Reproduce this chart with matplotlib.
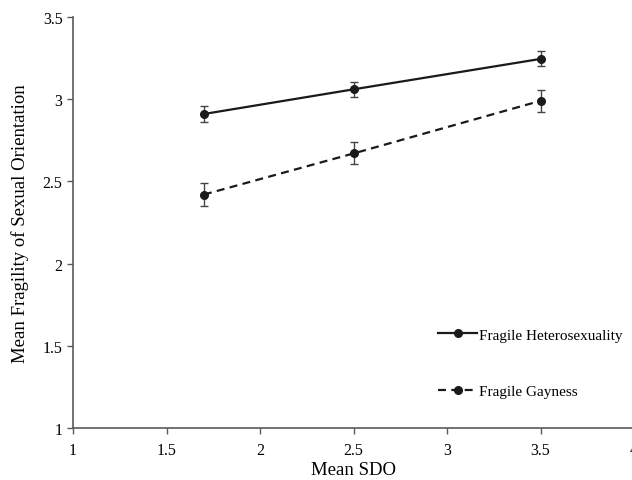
import numpy as np
import matplotlib
matplotlib.use('Agg')
from matplotlib import pyplot as plt

# data
sdo = [1.7, 2.5, 3.5]
hetero = [2.91, 3.06, 3.245]
hetero_err = [0.046, 0.046, 0.046]
gay = [2.42, 2.67, 2.99]
gay_err = [0.068, 0.067, 0.069]
xticks = [1, 1.5, 2, 2.5, 3, 3.5, 4]
yticks = [1, 1.5, 2, 2.5, 3, 3.5]

plt.rcParams['font.family'] = ['Liberation Serif', 'DejaVu Serif']
axis_col = '#5a5a5a'

fig = plt.figure(figsize=(6.32, 4.81), dpi=100)
ax = fig.add_axes([73 / 632, 1 - 429 / 481, 561 / 632, 411 / 481])

ax.errorbar(sdo, hetero, yerr=hetero_err, color='#1a1a1a', lw=1.6,
            marker='o', ms=5.5, ecolor='#444444', elinewidth=1, capsize=3,
            capthick=1, label='Fragile Heterosexuality')
ax.errorbar(sdo, gay, yerr=gay_err, color='#1a1a1a', lw=1.6, ls=(0, (3.6, 2.4)),
            marker='o', ms=5.5, ecolor='#444444', elinewidth=1, capsize=3,
            capthick=1, label='Fragile Gayness')

ax.set_xlim(1, 4)
ax.set_ylim(1, 3.5)
ax.set_xticks(xticks)
ax.set_xticklabels(['1', '1.5', '2', '2.5', '3', '3.5', '4'])
ax.set_yticks(yticks)
ax.set_yticklabels(['1', '1.5', '2', '2.5', '3', '3.5'])
ax.tick_params(axis='both', labelsize=11.5, color=axis_col, length=4, width=1, direction='out')
ax.tick_params(axis='x', pad=6)
for s in ['top', 'right']:
    ax.spines[s].set_visible(False)
for s in ['left', 'bottom']:
    ax.spines[s].set_color(axis_col)
    ax.spines[s].set_linewidth(1.2)

ax.set_xlabel('Mean SDO', fontsize=13.5, labelpad=2)
ax.set_ylabel('Mean Fragility of Sexual Orientation', fontsize=13.5, labelpad=10)

handles, labels = ax.get_legend_handles_labels()
leg = fig.legend([h[0] for h in handles], labels, loc='center left',
                 bbox_to_anchor=(430 / 632, 1 - 364 / 481), frameon=False,
                 fontsize=11, handlelength=2.6, handletextpad=0.1,
                 labelspacing=2.8, borderpad=0)

fig.savefig('out.png', dpi=100)
